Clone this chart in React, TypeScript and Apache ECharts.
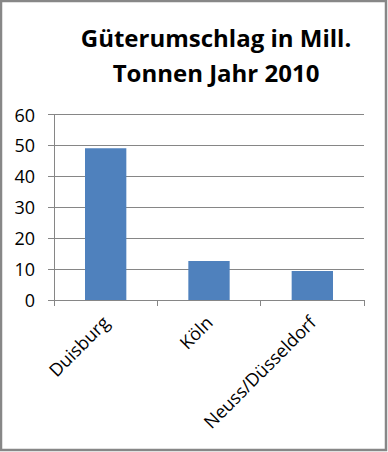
import React, { useEffect, useRef } from "react";
import * as echarts from "echarts";

const categories = ["Duisburg", "Köln", "Neuss/Düsseldorf"];
const values = [49.1, 12.6, 9.4];
const titleLines = ["Güterumschlag in Mill.", "Tonnen Jahr 2010"];

const FONT = "'Open Sans', 'Liberation Sans', sans-serif";

export default function App() {
  const ref = useRef<HTMLDivElement>(null);
  useEffect(() => {
    if (!ref.current) return;
    const chart = echarts.init(ref.current, null, { renderer: "svg" });
    chart.setOption({
      animation: false,
      backgroundColor: "#ffffff",
      graphic: [
        {
          type: "rect",
          shape: { x: 1, y: 1, width: 385, height: 449 },
          style: { fill: "none", stroke: "#878787", lineWidth: 2.5 },
        },
        {
          type: "text",
          x: 216,
          y: 20,
          style: {
            text: titleLines.join("\n"),
            font: `bold 24px ${FONT}`,
            fill: "#000",
            textAlign: "center",
            lineHeight: 35,
          },
        },
      ],
      grid: { left: 54, right: 24, top: 114.5, bottom: 152, containLabel: false },
      xAxis: {
        type: "category",
        data: categories,
        axisLine: { lineStyle: { color: "#868686", width: 1 } },
        axisTick: { show: true, length: 6, alignWithLabel: false, lineStyle: { color: "#868686" } },
        axisLabel: {
          rotate: 45,
          fontSize: 18,
          fontFamily: FONT,
          color: "#000",
          margin: 19,
          interval: 0,
        },
      },
      yAxis: {
        type: "value",
        min: 0,
        max: 60,
        interval: 10,
        axisLine: { show: true, lineStyle: { color: "#868686", width: 1 } },
        axisTick: { show: true, length: 6, lineStyle: { color: "#868686" } },
        splitLine: { lineStyle: { color: "#868686", width: 1 } },
        axisLabel: { fontSize: 18, fontFamily: FONT, color: "#000", margin: 19 },
      },
      series: [
        {
          type: "bar",
          data: values,
          barWidth: "40%",
          itemStyle: { color: "#4F81BD" },
        },
      ],
    });
    return () => chart.dispose();
  }, []);
  return (
    <div
      ref={ref}
      style={{ position: "fixed", left: 0, top: 0, width: 388, height: 452 }}
    />
  );
}
